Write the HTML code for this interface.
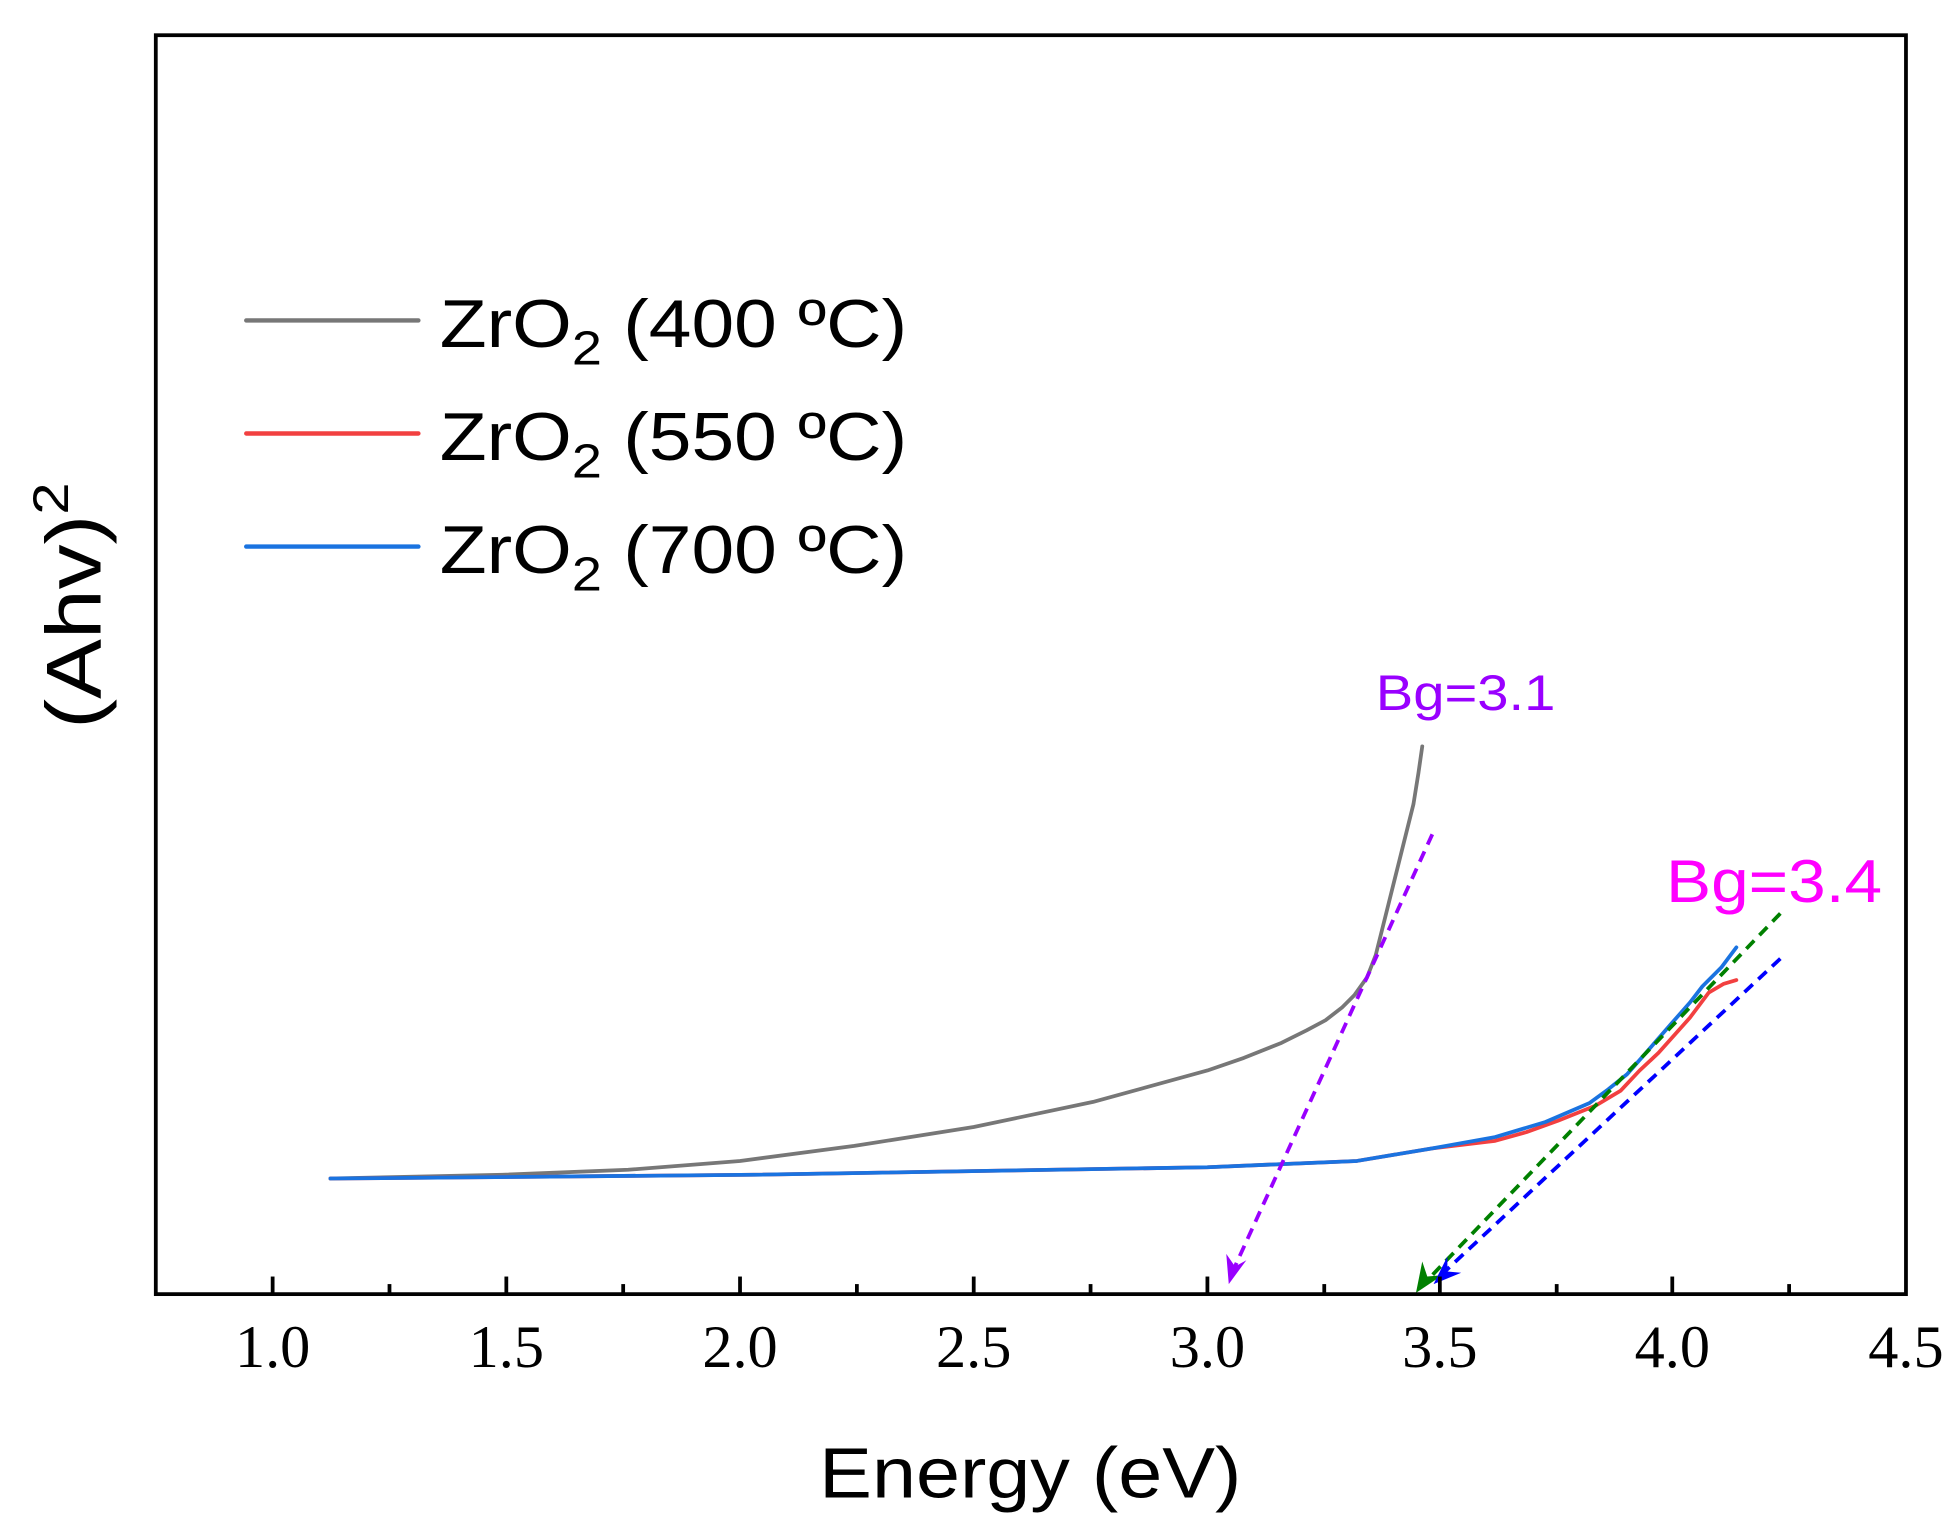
<!DOCTYPE html>
<html><head><meta charset="utf-8"><style>html,body{margin:0;padding:0;background:#fff}svg{display:block}</style></head>
<body>
<svg width="1960" height="1532" viewBox="0 0 1560 1219.3" xmlns="http://www.w3.org/2000/svg">
<rect width="1560" height="1219.3" fill="#fff"/>
<!-- curves -->
<g fill="none" stroke-width="3" stroke-linejoin="round" stroke-linecap="round">
<path stroke="#777" d="M263,938 L400,935 L500,931 L589,924 L680,912 L775,897 L870,877 L961,852 L990,842 L1020,830 L1040,820 L1055,812 L1068,802 L1078,792 L1088,778 L1095,760 L1100,740 L1105,720 L1110,700 L1115,680 L1120,660 L1125,640 L1129,615 L1132,594"/>
<path stroke="#f24040" d="M263,938 L600,935 L961,929 L1080,924 L1110,919 L1140,914 L1190,908 L1215,901 L1240,892 L1270,880 L1290,868 L1305,852 L1320,838 L1345,810 L1360,790 L1372,783 L1382,780"/>
<path stroke="#1a73e0" d="M263,938 L600,935 L961,929 L1080,924 L1110,919 L1140,914 L1190,905 L1230,893 L1265,878 L1280,867 L1295,855 L1310,838 L1330,815 L1345,798 L1355,785 L1370,770 L1382,754"/>
</g>
<!-- dashed tangents -->
<g fill="none" stroke-width="3" stroke-dasharray="9,6">
<line x1="1140" y1="664" x2="982" y2="1010" stroke="#9900ff"/>
<line x1="1417" y1="727" x2="1135" y2="1020" stroke="#008000"/>
<line x1="1417" y1="763" x2="1150" y2="1012" stroke="#0000ff"/>
</g>
<path d="M978,1022 L976,998 L983,1008 L992,1003z" fill="#9900ff"/>
<path d="M1127,1029 L1132,1004 L1136,1016 L1148,1015z" fill="#008000"/>
<path d="M1141,1022 L1152,1000 L1152,1012 L1163,1013z" fill="#0000ff"/>
<!-- axes box -->
<rect x="124" y="28" width="1393" height="1002" fill="none" stroke="#000" stroke-width="3"/>
<g stroke="#000" stroke-width="3">
<line x1="217" y1="1030" x2="217" y2="1016"/><line x1="310" y1="1030" x2="310" y2="1022"/>
<line x1="403" y1="1030" x2="403" y2="1016"/><line x1="496" y1="1030" x2="496" y2="1022"/>
<line x1="589" y1="1030" x2="589" y2="1016"/><line x1="682" y1="1030" x2="682" y2="1022"/>
<line x1="775" y1="1030" x2="775" y2="1016"/><line x1="868" y1="1030" x2="868" y2="1022"/>
<line x1="961" y1="1030" x2="961" y2="1016"/><line x1="1054" y1="1030" x2="1054" y2="1022"/>
<line x1="1146" y1="1030" x2="1146" y2="1016"/><line x1="1239" y1="1030" x2="1239" y2="1022"/>
<line x1="1331" y1="1030" x2="1331" y2="1016"/><line x1="1424" y1="1030" x2="1424" y2="1022"/>
</g>
<g font-family="Liberation Serif, serif" font-size="48" text-anchor="middle" fill="#000">
<text x="217" y="1088">1.0</text><text x="403" y="1088">1.5</text><text x="589" y="1088">2.0</text>
<text x="775" y="1088">2.5</text><text x="961" y="1088">3.0</text><text x="1146" y="1088">3.5</text>
<text x="1331" y="1088">4.0</text><text x="1517" y="1088">4.5</text>
</g>
<text x="820" y="1192" font-family="Liberation Sans, sans-serif" font-size="57" text-anchor="middle" textLength="336" lengthAdjust="spacingAndGlyphs">Energy (eV)</text>
<text transform="translate(80,482) rotate(-90)" font-family="Liberation Sans, sans-serif" font-size="62" text-anchor="middle" textLength="196" lengthAdjust="spacingAndGlyphs">(Ahv)<tspan dy="-26" font-size="40">2</tspan></text>
<!-- legend -->
<g stroke-width="3.5" stroke-linecap="round">
<line x1="196" y1="255" x2="333" y2="255" stroke="#777"/>
<line x1="196" y1="345" x2="333" y2="345" stroke="#f24040"/>
<line x1="196" y1="435" x2="333" y2="435" stroke="#1a73e0"/>
</g>
<g font-family="Liberation Sans, sans-serif" font-size="54" fill="#000">
<text x="350" y="276" textLength="372" lengthAdjust="spacingAndGlyphs">ZrO<tspan dy="14" font-size="38">2</tspan><tspan dy="-14"> (400 ºC)</tspan></text>
<text x="350" y="366" textLength="372" lengthAdjust="spacingAndGlyphs">ZrO<tspan dy="14" font-size="38">2</tspan><tspan dy="-14"> (550 ºC)</tspan></text>
<text x="350" y="456" textLength="372" lengthAdjust="spacingAndGlyphs">ZrO<tspan dy="14" font-size="38">2</tspan><tspan dy="-14"> (700 ºC)</tspan></text>
</g>
<text x="1095" y="565" font-family="Liberation Sans, sans-serif" font-size="40" fill="#9900ff" textLength="143" lengthAdjust="spacingAndGlyphs">Bg=3.1</text>
<text x="1326" y="718" font-family="Liberation Sans, sans-serif" font-size="48" fill="#ff00ff" textLength="172" lengthAdjust="spacingAndGlyphs">Bg=3.4</text>
</svg>
</body></html>
